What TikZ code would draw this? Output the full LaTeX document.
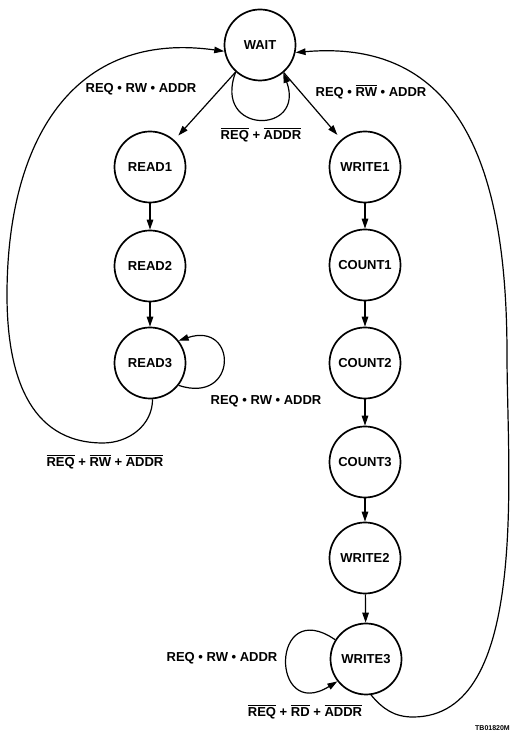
\documentclass[tikz,border=0pt]{standalone}
\usepackage{fontspec}
\setmainfont{Liberation Sans}
\usetikzlibrary{arrows.meta}
\newcommand\ovl[1]{\leavevmode\vbox{\hrule height 1.3pt\kern 1.6pt\hbox{#1}}}
\begin{document}
\begin{tikzpicture}[x=1pt,y=1pt,
  state/.style={circle,draw,line width=1.7pt,minimum size=71pt,inner sep=0pt,
    font=\fontsize{13}{15}\selectfont\bfseries},
  lbl/.style={font=\fontsize{13}{15}\selectfont\bfseries,inner sep=0pt,anchor=base},
  arr/.style={line width=1.2pt,-{Triangle[length=10pt,width=6.5pt]}}]
\useasboundingbox (0,0) rectangle (512,735);
% states
\node[state] (wait)   at (260,690) {WAIT};
\node[state] (read1)  at (150,568) {READ1};
\node[state] (read2)  at (150,469) {READ2};
\node[state] (read3)  at (150,372) {READ3};
\node[state] (write1) at (365,568) {WRITE1};
\node[state] (count1) at (365,470) {COUNT1};
\node[state] (count2) at (365,372) {COUNT2};
\node[state] (count3) at (365,273) {COUNT3};
\node[state] (write2) at (365,177) {WRITE2};
\node[state] (write3) at (366,76)  {WRITE3};
% straight transitions
\draw[arr,shorten >=6pt] (wait) -- (read1);
\draw[arr,shorten >=6pt] (wait) -- (write1);
\draw[arr] (read1) -- (read2);
\draw[arr] (read2) -- (read3);
\draw[arr] (write1) -- (count1);
\draw[arr] (count1) -- (count2);
\draw[arr] (count2) -- (count3);
\draw[arr] (count3) -- (write2);
\draw[arr] (write2) -- (write3);
% self loops
\draw[arr] (wait.228) .. controls (212,600) and (306,600) .. (wait.310);
\draw[arr] (read3.-38) .. controls (238,330) and (238,414) .. (read3.38);
\draw[arr] (write3.148) .. controls (270,140) and (270,12) .. (write3.218);
% long returns
\draw[arr] (read3.-86) to[out=-90,in=0] (103,292)
  to[out=180,in=-90,looseness=1.1] (7,440)
  to[out=90,in=172,looseness=1.2] (wait.190);
\draw[arr] (write3.-82) to[out=-50,in=180] (413,18)
  to[out=0,in=-90,looseness=0.8] (507,380)
  to[out=90,in=5,looseness=1.2] (wait.-12);
% labels
\node[lbl] (l1) at (141,642) {REQ • RW • ADDR};
\node[lbl] (l2) at (371,638) {REQ • \ovl{RW} • ADDR};
\node[lbl] (l3) at (261,595) {\ovl{REQ} + \ovl{ADDR}};
\node[lbl] (l4) at (266,330) {REQ • RW • ADDR};
\node[lbl] (l5) at (105,268) {\ovl{REQ} + \ovl{RW} + \ovl{ADDR}};
\node[lbl] (l6) at (222,73)  {REQ • RW • ADDR};
\node[lbl] (l7) at (305,18)  {\ovl{REQ} + \ovl{RD} + \ovl{ADDR}};
\node[font=\fontsize{7}{8}\selectfont\bfseries,inner sep=0pt,anchor=base east] (tb) at (510,5) {TB01820M};
\end{tikzpicture}
\end{document}
